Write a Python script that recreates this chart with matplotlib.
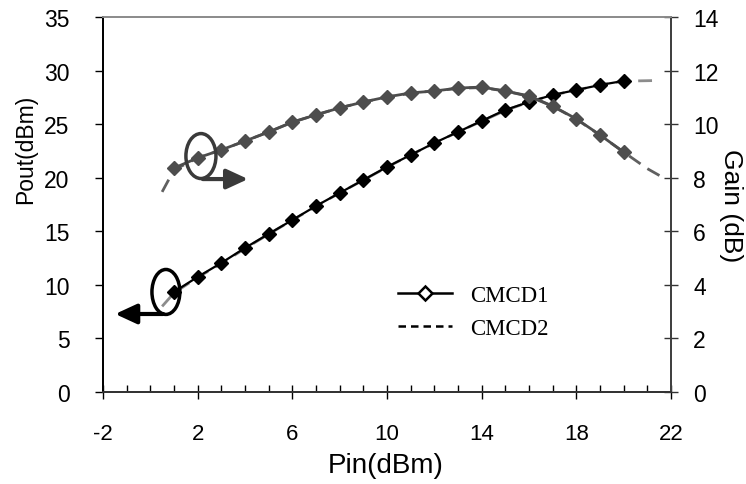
import numpy as np
import matplotlib.pyplot as plt
from matplotlib.patches import Ellipse

# measured data, CMCD1 (markers) and CMCD2 (dashed)
pin1 = [1, 2, 3, 4, 5, 6, 7, 8, 9, 10, 11, 12, 13, 14, 15, 16, 17, 18, 19, 20]
pout1 = [9.35, 10.75, 12.06, 13.46, 14.77, 16.07, 17.38, 18.6, 19.81, 21.03,
         22.15, 23.27, 24.3, 25.33, 26.36, 27.1, 27.76, 28.22, 28.69, 29.07]
gain1 = [8.37, 8.75, 9.05, 9.38, 9.72, 10.09, 10.36, 10.62, 10.84, 11.03,
         11.18, 11.25, 11.36, 11.4, 11.25, 11.07, 10.69, 10.21, 9.61, 8.97]

pin2 = [0.5, 1, 2, 3, 4, 5, 6, 7, 8, 9, 10, 11, 12, 13, 14, 15, 16, 17, 18, 19, 20, 21.2]
pout2 = [8.0, 9.25, 10.7, 12.0, 13.4, 14.75, 16.05, 17.35, 18.6, 19.8, 21.0,
         22.15, 23.25, 24.3, 25.3, 26.3, 27.1, 27.75, 28.2, 28.7, 29.05, 29.1]

pin2g = [0.5, 1, 2, 3, 4, 5, 6, 7, 8, 9, 10, 11, 12, 13, 14, 15, 16, 17, 18, 19, 20, 21, 21.6]
gain2 = [7.48, 8.3, 8.75, 9.05, 9.38, 9.72, 10.08, 10.36, 10.62, 10.84, 11.02,
         11.17, 11.26, 11.35, 11.38, 11.25, 11.05, 10.68, 10.2, 9.6, 8.97, 8.35, 8.05]

xticks = [-2, 2, 6, 10, 14, 18, 22]

plt.rcParams['font.family'] = ['Liberation Sans', 'DejaVu Sans']
plt.rcParams['axes.unicode_minus'] = False

fig = plt.figure(figsize=(7.46, 4.85), dpi=100)
ax = fig.add_axes([0.138, 0.1897, 0.7614, 0.7722])
ax2 = ax.twinx()

# Pout
ax.plot(pin2, pout2, color='#8c8c8c', lw=2, ls=(0, (5, 3)), zorder=2)
ax.plot(pin1, pout1, color='black', lw=1.6, marker='D', ms=7,
        mfc='black', mec='black', zorder=3)

# Gain
ax2.plot(pin2g, gain2, color='#606060', lw=2, ls=(0, (5, 3)), zorder=2)
ax2.plot(pin1, gain1, color='#4d4d4d', lw=2, marker='D', ms=7,
         mfc='#4d4d4d', mec='#4d4d4d', zorder=3)

ax.set_xlim(-2, 22)
ax.set_ylim(0, 35)
ax2.set_ylim(0, 14)
ax.set_xticks(xticks)
ax.set_xticks(np.arange(-2, 23, 1), minor=True)
ax.set_yticks(np.arange(0, 36, 5))
ax2.set_yticks(np.arange(0, 15, 2))

ax.tick_params(axis='x', which='major', direction='inout', length=10, width=1,
               labelsize=16, pad=17)
ax.tick_params(axis='x', which='minor', direction='in', length=5, width=1)
ax.tick_params(axis='y', direction='out', length=6, width=1, labelsize=16.5, pad=18)
ax2.tick_params(axis='y', direction='inout', length=10, width=1, labelsize=16.5,
                pad=11, color='#333333')

ax.set_xlabel('Pin(dBm)', fontsize=20)
ax.set_ylabel('Pout(dBm)', fontsize=16.5)
ax2.set_ylabel('Gain (dB)', fontsize=19, rotation=270)
ax.xaxis.set_label_coords(0.498, -0.195)
ax.yaxis.set_label_coords(-0.136, 0.65)
ax2.yaxis.set_label_coords(1.106, 0.5)
for lab in (ax.xaxis.label, ax.yaxis.label, ax2.yaxis.label):
    lab.set_va('center')
    lab.set_ha('center')

for a in (ax, ax2):
    a.spines['top'].set_color('#8c8c8c')
    a.spines['right'].set_color('#404040')
    a.spines['left'].set_color('black')
    a.spines['bottom'].set_color('#333333')
    for s in a.spines.values():
        s.set_linewidth(1.3)

# circle + arrow marks for the axes
ax.add_patch(Ellipse((0.66, 9.35), 1.18, 4.2, fill=False, ec='black', lw=2.5, zorder=5))
ax.annotate('', xy=(-1.6, 7.29), xytext=(0.66, 7.29),
            arrowprops=dict(arrowstyle='-|>,head_length=1.3,head_width=0.6',
                            color='black', lw=3))
ax2.add_patch(Ellipse((2.14, 8.82), 1.27, 1.68, fill=False, ec='#3a3a3a', lw=2.5, zorder=5))
ax2.annotate('', xy=(4.25, 7.96), xytext=(2.1, 7.96),
             arrowprops=dict(arrowstyle='-|>,head_length=1.3,head_width=0.6',
                             color='#3a3a3a', lw=3))

# legend
h1, = ax.plot([], [], color='black', lw=1.8, marker='D', ms=7, mfc='white', mec='black', mew=1.8)
h2, = ax.plot([], [], color='black', lw=1.8, ls=(0, (3, 2)))
ax.legend([h1, h2], ['CMCD1', 'CMCD2'], loc='upper left', bbox_to_anchor=(0.519, 0.285),
          frameon=False, prop={'family': 'Liberation Serif', 'size': 16.5},
          handlelength=2.36, handletextpad=0.79, labelspacing=0.5,
          borderpad=0, borderaxespad=0)

fig.savefig('out.png', dpi=100)
